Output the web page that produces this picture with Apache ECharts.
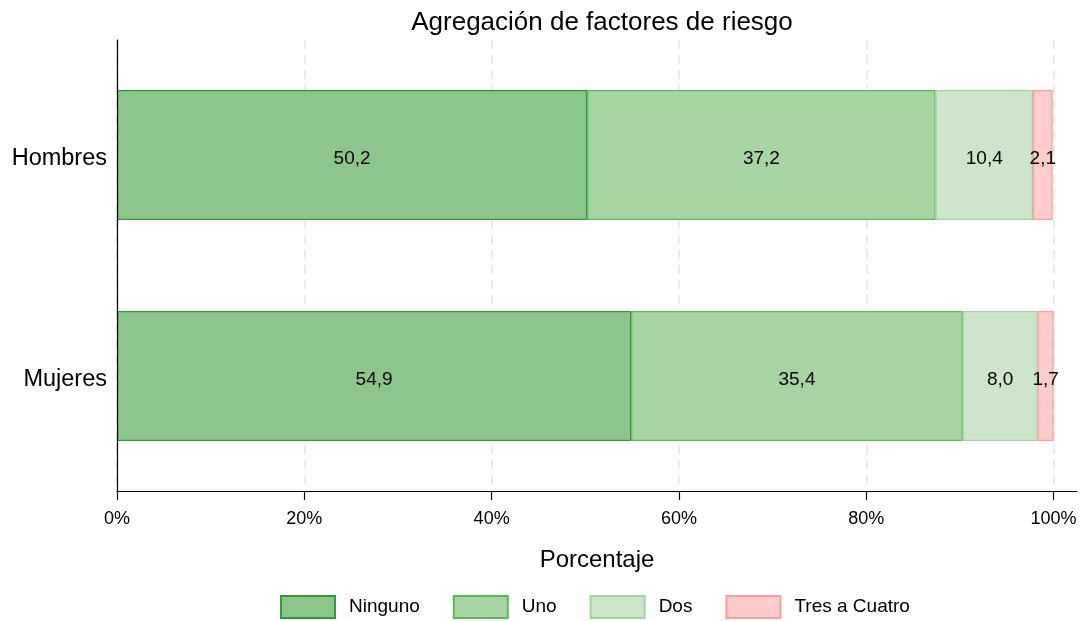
<!DOCTYPE html>
<html>
<head>
<meta charset="utf-8">
<script src="https://cdn.jsdelivr.net/npm/echarts@6/dist/echarts.min.js"></script>
<style>
  html, body { margin: 0; padding: 0; background: #ffffff; }
  #chart { width: 1083px; height: 621px; }
</style>
</head>
<body>
<div id="chart"></div>
<script>
// Risk-factor aggregation by sex (percent of each group)
const categories = ['Hombres', 'Mujeres'];
const ninguno = [50.2, 54.9];
const uno = [37.2, 35.4];
const dos = [10.4, 8.0];
const tresACuatro = [2.1, 1.7];
const seriesNames = ['Ninguno', 'Uno', 'Dos', 'Tres a Cuatro'];
const xTicks = [0, 20, 40, 60, 80, 100];

const FONT = 'Liberation Sans, Arial, Helvetica, sans-serif';

const styles = [
  { fill: '#8dc68b', stroke: '#2e9d2e' },
  { fill: '#a6d4a3', stroke: '#5cb85a' },
  { fill: '#cde6cb', stroke: '#a3d4a0' },
  { fill: '#ffcccc', stroke: '#ff9d9d' }
];
const values = [ninguno, uno, dos, tresACuatro];

const fmt = v => v.toFixed(1).replace('.', ',');

const barSeries = seriesNames.map((name, i) => ({
  name: name,
  type: 'bar',
  stack: 'total',
  xAxisIndex: 0,
  yAxisIndex: 0,
  barWidth: 130,
  z: 3,
  data: values[i],
  itemStyle: { color: styles[i].fill, borderColor: styles[i].stroke, borderWidth: 1.2 },
  label: {
    show: true,
    position: 'inside',
    offset: [0, 4],
    color: '#000000',
    fontFamily: FONT,
    fontSize: 19,
    formatter: p => fmt(p.value)
  },
  emphasis: { disabled: true }
}));

const chart = echarts.init(document.getElementById('chart'), null, { renderer: 'canvas' });
chart.setOption({
  animation: false,
  backgroundColor: '#ffffff',
  textStyle: { fontFamily: FONT },
  title: {
    text: 'Agregación de factores de riesgo',
    left: 597,
    top: 5,
    textAlign: 'center',
    textStyle: { fontFamily: FONT, fontSize: 26, fontWeight: 'normal', color: '#000000' }
  },
  legend: {
    data: seriesNames,
    left: 280,
    top: 595,
    padding: 0,
    itemWidth: 54,
    itemHeight: 22,
    itemGap: 33,
    icon: 'rect',
    textStyle: { fontFamily: FONT, fontSize: 19, color: '#000000', padding: [0, 0, 0, 9] },
    selectedMode: false
  },
  grid: [
    // bars
    { left: 117, right: 6, top: 44.5, bottom: 134.5, containLabel: false },
    // axes frame, ticks and gridlines
    { left: 117, right: 6, top: 40, bottom: 130, containLabel: false }
  ],
  xAxis: [
    {
      gridIndex: 0,
      type: 'value',
      min: 0,
      max: 102.5,
      interval: 20,
      show: false
    },
    {
      gridIndex: 1,
      type: 'value',
      min: 0,
      max: 102.5,
      interval: 20,
      name: 'Porcentaje',
      nameLocation: 'middle',
      nameGap: 57,
      nameTextStyle: { fontFamily: FONT, fontSize: 24, color: '#000000' },
      axisLine: { show: true, lineStyle: { color: '#000000', width: 1.2 } },
      axisTick: { show: true, length: 9, customValues: xTicks, lineStyle: { color: '#000000', width: 1.2 } },
      axisLabel: {
        customValues: xTicks,
        margin: 19,
        fontFamily: FONT,
        fontSize: 18,
        color: '#000000',
        formatter: v => v + '%'
      },
      splitLine: {
        show: true,
        customValues: xTicks,
        lineStyle: { color: '#ebebeb', width: 2, type: [9, 6] }
      }
    }
  ],
  yAxis: [
    {
      gridIndex: 0,
      type: 'category',
      data: categories,
      inverse: true,
      axisLine: { show: false },
      axisTick: { show: false },
      axisLabel: {
        margin: 10,
        verticalAlign: 'top',
        lineHeight: 8,
        fontFamily: FONT,
        fontSize: 23.5,
        color: '#000000'
      },
      splitLine: { show: false }
    },
    {
      gridIndex: 1,
      type: 'category',
      data: categories,
      inverse: true,
      z: 5,
      axisLine: { show: true, lineStyle: { color: '#000000', width: 1.2 } },
      axisTick: { show: false },
      axisLabel: { show: false },
      splitLine: { show: false }
    }
  ],
  series: barSeries
});
</script>
</body>
</html>
